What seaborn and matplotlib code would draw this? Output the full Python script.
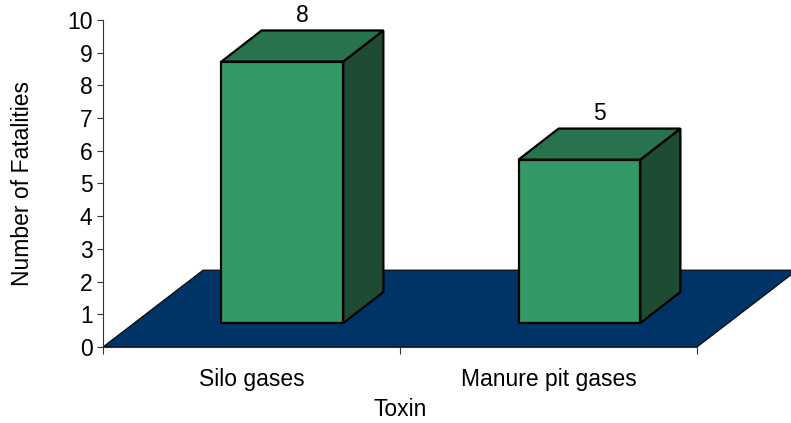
import matplotlib
matplotlib.use("Agg")
import matplotlib.pyplot as plt
from matplotlib.patches import Polygon
import seaborn as sns

# data
toxins = ["Silo gases", "Manure pit gases"]
fatalities = [8, 5]
y_ticks = list(range(0, 11))

# colours (Excel-like 3D column chart)
front_color = "#339966"
top_color = "#26734d"
side_color = "#1d4c33"
floor_color = "#003366"

# projection offsets in data units
floor_dx, floor_dy = 0.337, 2.35   # depth of the floor
front_dx, front_dy = 0.104, 0.73   # bars sit half way into the floor
depth_dx, depth_dy = 0.135, 0.95   # depth of each bar

sns.set_style("ticks")
plt.rcParams["font.family"] = ["Liberation Sans", "DejaVu Sans"]
plt.rcParams["text.color"] = "black"
plt.rcParams["axes.labelcolor"] = "black"
plt.rcParams["xtick.labelcolor"] = "black"
plt.rcParams["ytick.labelcolor"] = "black"

fig = plt.figure(figsize=(7.91, 4.23), dpi=100)
ax = fig.add_axes([0.1302, 0.1797, 0.7510, 0.7730])

sns.barplot(x=toxins, y=fatalities, width=0.41, color=front_color,
            edgecolor="black", linewidth=1.6, saturation=1, ax=ax, zorder=3)

ax.set_xlim(-0.5, 1.5)
ax.set_ylim(0, 10)

# floor parallelogram
x0, x1 = ax.get_xlim()
floor = Polygon([(x0, 0), (x1, 0), (x1 + floor_dx, floor_dy), (x0 + floor_dx, floor_dy)],
                closed=True, facecolor=floor_color, edgecolor="black", linewidth=0.8,
                zorder=1, clip_on=False)
ax.add_patch(floor)

# turn the flat bars into boxes
for p, val in zip(ax.patches[:len(fatalities)], fatalities):
    p.set_x(p.get_x() + front_dx)
    p.set_y(front_dy)
    bx0 = p.get_x()
    bx1 = bx0 + p.get_width()
    by0 = p.get_y()
    by1 = by0 + p.get_height()
    top = Polygon([(bx0, by1), (bx0 + depth_dx, by1 + depth_dy),
                   (bx1 + depth_dx, by1 + depth_dy), (bx1, by1)],
                  closed=True, facecolor=top_color, edgecolor="black",
                  linewidth=1.6, zorder=3, clip_on=False, joinstyle="miter")
    side = Polygon([(bx1, by0), (bx1, by1), (bx1 + depth_dx, by1 + depth_dy),
                    (bx1 + depth_dx, by0 + depth_dy)],
                   closed=True, facecolor=side_color, edgecolor="black",
                   linewidth=1.6, zorder=3, clip_on=False, joinstyle="miter")
    ax.add_patch(side)
    ax.add_patch(top)
    ax.text((bx0 + bx1) / 2 + depth_dx / 2, by1 + depth_dy + 0.1, str(val),
            ha="center", va="bottom", fontsize=16.5, color="black")

sns.despine(ax=ax, top=True, right=True)
ax.spines["left"].set_color("#333333")
ax.spines["bottom"].set_color("#333333")
ax.spines["left"].set_zorder(4)
ax.spines["bottom"].set_zorder(4)

ax.set_yticks(y_ticks)
ax.tick_params(axis="y", length=4.5, width=0.8, pad=3, labelsize=16.5, color="#333333")
ax.set_xticks([0, 1])
ax.set_xticklabels(toxins)
ax.set_xticks([-0.5, 0.5, 1.5], minor=True)
ax.tick_params(axis="x", which="major", length=0, pad=15, labelsize=16.5)
ax.tick_params(axis="x", which="minor", length=5, width=0.8, color="#333333")

ax.set_xlabel("Toxin", fontsize=16.5, labelpad=5)
ax.set_ylabel("Number of Fatalities", fontsize=16.5, labelpad=24)

fig.savefig("out.png", dpi=100)
